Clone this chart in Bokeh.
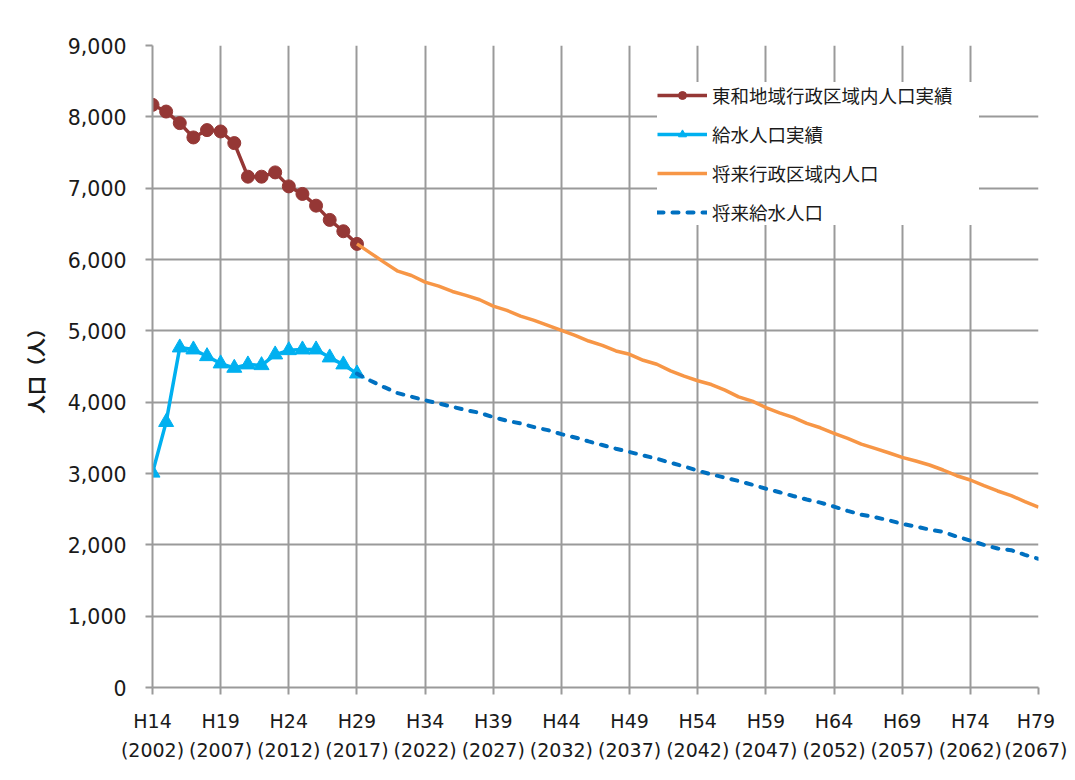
from bokeh.plotting import figure
from bokeh.models import FixedTicker, NumeralTickFormatter, Legend, LegendItem, Range1d
from bokeh.embed import file_html
from bokeh.resources import INLINE

# ---- data (Heisei year numbers) ----
years_actual = list(range(14, 30))
region_actual = [8168, 8074, 7912, 7711, 7814, 7795, 7632, 7161, 7161, 7221,
                 7025, 6919, 6755, 6555, 6396, 6219]
supply_actual = [3010, 3720, 4765, 4737, 4643, 4541, 4480, 4527, 4517, 4667,
                 4727, 4737, 4737, 4625, 4527, 4400]

years_future = list(range(29, 80))
region_future = [6219, 6090, 5960, 5836, 5776, 5683, 5627, 5552, 5497, 5436,
                 5347, 5287, 5207, 5147, 5077, 5007, 4937, 4857, 4797, 4718,
                 4671, 4587, 4531, 4438, 4364, 4300, 4247, 4168, 4074, 4014,
                 3925, 3850, 3786, 3702, 3641, 3562, 3492, 3412, 3352, 3291,
                 3226, 3175, 3119, 3049, 2969, 2909, 2829, 2755, 2690, 2606,
                 2527]
supply_future = [4400, 4300, 4210, 4126, 4077, 4026, 3982, 3935, 3888, 3851,
                 3790, 3739, 3702, 3650, 3608, 3552, 3505, 3450, 3399, 3347,
                 3301, 3254, 3207, 3151, 3100, 3039, 2989, 2941, 2895, 2843,
                 2787, 2737, 2685, 2635, 2592, 2536, 2476, 2424, 2387, 2345,
                 2294, 2256, 2214, 2182, 2116, 2060, 2000, 1948, 1925, 1860,
                 1804]

tick_years = list(range(14, 80, 5))
tick_labels = ["H%d\n(%d)" % (h, h + 1988) for h in tick_years]
y_ticks = list(range(0, 9001, 1000))

series_names = ["東和地域行政区域内人口実績", "給水人口実績", "将来行政区域内人口", "将来給水人口"]
y_label = "人口（人）"

# ---- figure ----
p = figure(width=1067, height=772, x_range=Range1d(14, 79), y_range=Range1d(0, 9000),
           output_backend="svg", toolbar_location=None,
           min_border_left=152, min_border_right=29, min_border_top=45, min_border_bottom=85)
p.outline_line_color = None
p.background_fill_color = "white"
p.border_fill_color = "white"

grid_col = "#9a9a9a"
xt = FixedTicker(ticks=tick_years, minor_ticks=[])
yt = FixedTicker(ticks=y_ticks, minor_ticks=[])
p.xaxis.ticker = xt
p.yaxis.ticker = yt
p.xgrid.ticker = xt
p.ygrid.ticker = yt
for g in (p.xgrid, p.ygrid):
    g.grid_line_color = grid_col
    g.grid_line_width = 2

p.xaxis.major_label_overrides = {h: lab for h, lab in zip(tick_years, tick_labels)}
p.yaxis.formatter = NumeralTickFormatter(format="0,0")

for ax in (p.xaxis, p.yaxis):
    ax.axis_line_color = grid_col
    ax.axis_line_width = 2
    ax.major_tick_line_color = grid_col
    ax.major_tick_line_width = 2
    ax.major_tick_out = 7
    ax.major_tick_in = 0
    ax.minor_tick_out = 0
    ax.minor_tick_in = 0
    ax.major_label_text_font = "DejaVu Sans"
    ax.major_label_text_color = "#1a1a1a"

p.yaxis.major_label_text_font_size = "20.5px"
p.xaxis.major_label_text_font_size = "19px"
p.yaxis.major_label_standoff = 19
p.xaxis.major_label_standoff = 15
p.xaxis.major_label_text_line_height = 1.35

p.yaxis.axis_label = y_label
p.yaxis.axis_label_text_font = "Noto Sans CJK JP"
p.yaxis.axis_label_text_font_size = "19px"
p.yaxis.axis_label_text_font_style = "bold"
p.yaxis.axis_label_text_color = "#1a1a1a"
p.yaxis.axis_label_standoff = 16

red = "#953735"
lblue = "#00B0F0"
orange = "#F79646"
dblue = "#0070C0"

r1l = p.line(years_actual, region_actual, line_color=red, line_width=3.5)
r1m = p.scatter(years_actual, region_actual, marker="circle", size=13,
                fill_color=red, line_color=red)
r2l = p.line(years_actual, supply_actual, line_color=lblue, line_width=3.5)
r2m = p.scatter(years_actual, supply_actual, marker="triangle", size=15,
                fill_color=lblue, line_color=lblue)
r3 = p.line(years_future, region_future, line_color=orange, line_width=3.5)
r4 = p.line(years_future, supply_future, line_color=dblue, line_width=4,
            line_dash="6 9", line_cap="round")

legend = Legend(items=[
    LegendItem(label=series_names[0], renderers=[r1l, r1m]),
    LegendItem(label=series_names[1], renderers=[r2l, r2m]),
    LegendItem(label=series_names[2], renderers=[r3]),
    LegendItem(label=series_names[3], renderers=[r4]),
], location=(505, 462))
legend.margin = 0
legend.padding = 8
legend.spacing = 13
legend.glyph_width = 50
legend.glyph_height = 20
legend.label_height = 20
legend.label_width = 267
legend.label_standoff = 5
legend.label_text_font = "Noto Sans CJK JP"
legend.label_text_font_size = "18.5px"
legend.label_text_color = "#1a1a1a"
legend.background_fill_color = "white"
legend.background_fill_alpha = 1.0
legend.border_line_color = None
p.add_layout(legend)

open("out.html", "w").write(file_html(p, INLINE))
